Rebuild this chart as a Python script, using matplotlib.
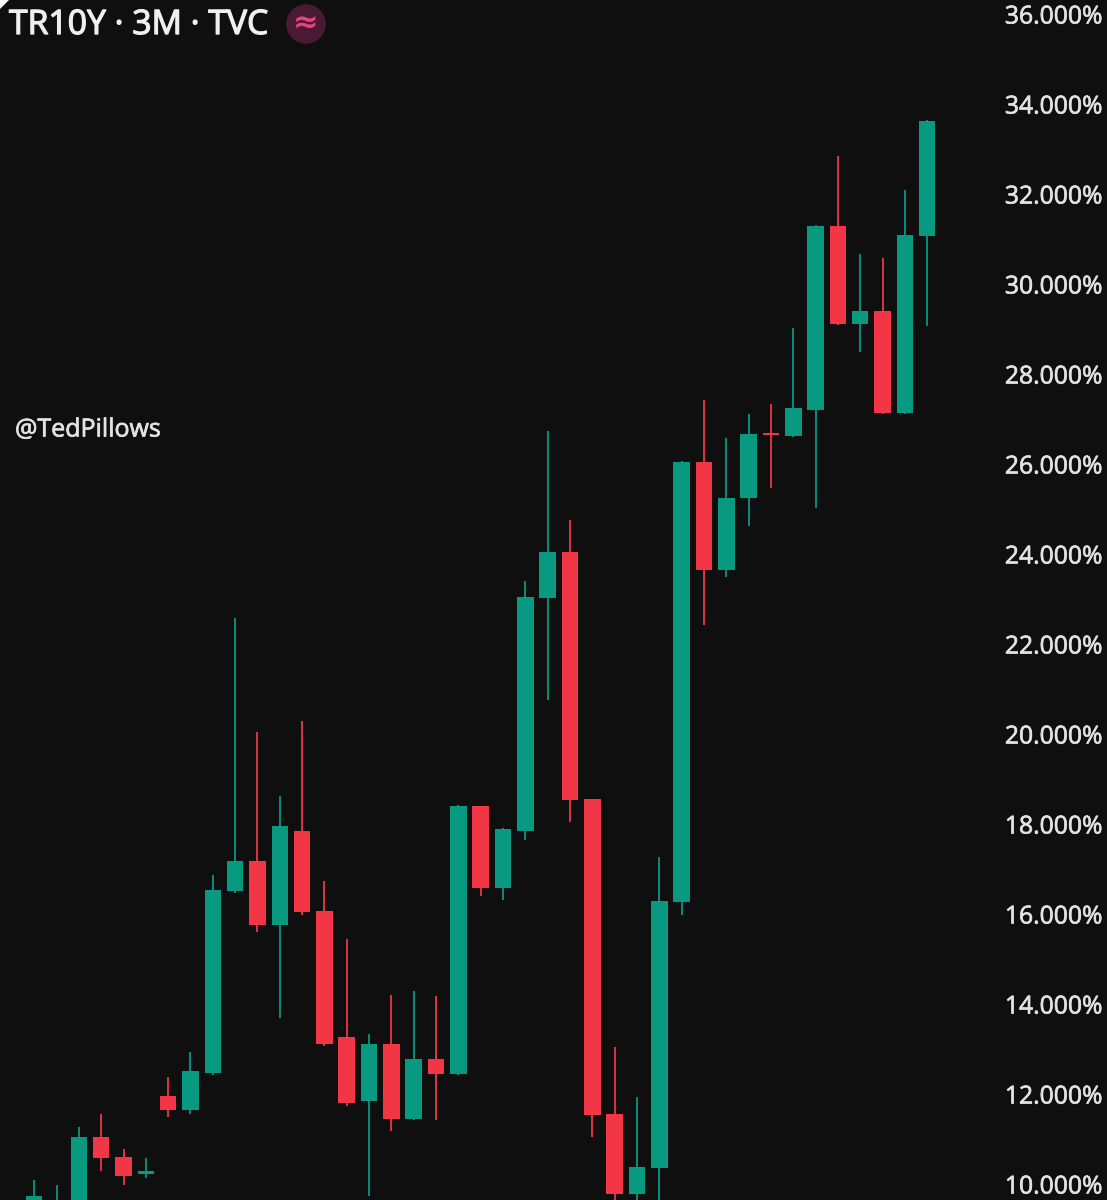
import matplotlib
matplotlib.use("Agg")
import matplotlib.pyplot as plt
import matplotlib.patheffects as pe
from matplotlib.patches import Polygon
from matplotlib.transforms import ScaledTranslation

# candles, the first few and some lows run off the bottom
opens = [9.3, 9.2, 9.5, 11.09, 10.64, 10.27, 12.00, 11.69, 12.51, 16.56, 17.22, 15.80, 17.89, 16.11,
         13.31, 11.89, 13.16, 11.49, 12.82, 12.49, 18.44, 16.62, 17.89, 23.07, 24.09, 18.60, 11.60,
         9.82, 10.40, 16.31, 26.09, 23.69, 25.29, 26.73, 26.67, 27.24, 31.33, 29.16, 29.44, 27.18, 31.11]
closes = [9.78, 9.6, 11.09, 10.62, 10.22, 10.33, 11.69, 12.56, 16.58, 17.22, 15.80, 18.00, 16.09, 13.16,
          11.84, 13.16, 11.49, 12.82, 12.49, 18.44, 16.62, 17.93, 23.09, 24.09, 18.58, 11.58, 9.82,
          10.42, 16.33, 26.09, 23.69, 25.29, 26.71, 26.69, 27.29, 31.33, 29.16, 29.44, 27.18, 31.13, 33.67]
highs = [10.13, 10.02, 11.31, 11.60, 10.82, 10.62, 12.42, 12.98, 16.91, 22.62, 20.09, 18.67, 20.33, 16.78,
         15.49, 13.38, 14.24, 14.33, 14.22, 18.47, 18.44, 17.96, 23.44, 26.78, 24.80, 18.60, 13.09,
         11.98, 17.31, 26.11, 27.47, 26.62, 27.16, 27.38, 29.07, 31.36, 32.89, 30.71, 30.62, 32.13, 33.69]
lows = [9.0, 9.0, 9.3, 10.33, 10.02, 10.18, 11.53, 11.60, 12.47, 16.51, 15.64, 13.73, 16.02, 13.11,
        11.78, 9.78, 11.22, 11.47, 11.47, 12.47, 16.44, 16.36, 17.69, 20.80, 18.09, 11.09, 9.5,
        9.4, 9.4, 16.02, 22.47, 23.53, 24.67, 25.51, 26.64, 25.07, 29.13, 28.53, 27.16, 27.16, 29.11]
ytick_vals = [10, 12, 14, 16, 18, 20, 22, 24, 26, 28, 30, 32, 34, 36]

bg = "#0f0f10"
up = "#089981"
down = "#f23645"
label_col = "#e2e2e2"
W, H = 1107, 1200

fig = plt.figure(figsize=(W / 100, H / 100), dpi=100, facecolor=bg)
ax = fig.add_axes([0, 0, 1000 / W, 1], facecolor=bg)

for i in range(len(opens)):
    c = up if closes[i] >= opens[i] else down
    ax.vlines(i, lows[i], highs[i], color=c, lw=1.3, zorder=2)
    bottom = min(opens[i], closes[i])
    ax.bar(i, abs(closes[i] - opens[i]), bottom=bottom, width=0.74, color=c, zorder=3)

# pixel scale of the screenshot: 22.325 px per bar, 45 px per 1%
ax.set_xlim((0 - 34.2) / 22.325, (1000 - 34.2) / 22.325)
ax.set_ylim(10 + (1186 - 1200) / 45, 10 + 1186 / 45)
for s in ax.spines.values():
    s.set_visible(False)
ax.set_xticks([])
ax.yaxis.tick_right()
ax.set_yticks(ytick_vals)
labels = ax.set_yticklabels(["%.3f%%" % v for v in ytick_vals], color=label_col, fontsize=17.8, family="Open Sans")
ax.tick_params(axis="y", length=0, pad=3.5)

thick = [pe.withStroke(linewidth=0.5, foreground=label_col)]
up_shift = ScaledTranslation(0, 2 / 100, fig.dpi_scale_trans)
for t in labels:
    t.set_path_effects(thick)
    t.set_transform(t.get_transform() + up_shift)

title = fig.text(9 / W, 1 - 25 / H, "TR10Y · 3M · TVC", color="#f0f0f0", fontsize=24.3, family="Open Sans",
                 va="center", ha="left")
title.set_path_effects([pe.withStroke(linewidth=0.9, foreground="#f0f0f0")])
fig.text(306 / W, 1 - 24 / H, "≈", color="#e8437f", fontsize=22, fontweight="bold", ha="center", va="center",
         bbox=dict(boxstyle="circle,pad=0.17", fc="#4a1a33", ec="none"))
tag = fig.text(15 / W, 1 - 430 / H, "@TedPillows", color=label_col, fontsize=18, family="Open Sans",
               va="center", ha="left")
tag.set_path_effects(thick)

# white rounded corner left over in the screenshot
fig.add_artist(Polygon([[0, 1], [9 / W, 1], [0, 1 - 9 / H]], closed=True, fc="white", ec="none",
                       transform=fig.transFigure))

fig.savefig("out.png", dpi=100, facecolor=bg)
